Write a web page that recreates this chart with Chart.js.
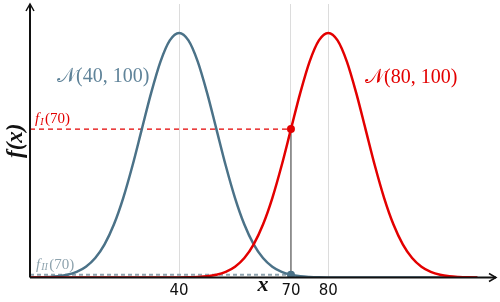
<!DOCTYPE html>
<html>
<head>
<meta charset="utf-8">
<script src="https://cdn.jsdelivr.net/npm/chart.js@4"></script>
<style>
html,body{margin:0;padding:0;background:#fff}
#wrap{width:500px;height:302px}
</style>
</head>
<body>
<div id="wrap"><canvas id="chart" width="500" height="302"></canvas></div>
<script>
"use strict"

const xs = [0,2.5,5,7.5,10,12.5,15,17.5,20,22.5,25,27.5,30,32.5,35,37.5,40,42.5,45,47.5,50,52.5,55,57.5,60,62.5,65,67.5,70,72.5,75,77.5,80,82.5,85,87.5,90,92.5,95,97.5,100,102.5,105,107.5,110,112.5,115,117.5,120]

// density of N(40,100)
const fLow = [0.000013,0.000035,0.00009,0.0002,0.00044,0.00091,0.00175,0.00317,0.0054,0.00863,0.01295,0.01826,0.0242,0.03011,0.03521,0.03867,0.03989,0.03867,0.03521,0.03011,0.0242,0.01826,0.01295,0.00863,0.0054,0.00317,0.00175,0.00091,0.00044,0.0002,0.00009,0.000035,0.000013,0,0,0,0,0,0,0,0,0,0,0,0,0,0,0,0]

// density of N(80,100)
const fHigh = [0,0,0,0,0,0,0,0,0,0,0,0,0,0,0,0.000005,0.000013,0.000035,0.00009,0.0002,0.00044,0.00091,0.00175,0.00317,0.0054,0.00863,0.01295,0.01826,0.0242,0.03011,0.03521,0.03867,0.03989,0.03867,0.03521,0.03011,0.0242,0.01826,0.01295,0.00863,0.0054,0.00317,0.00175,0.00091,0.00044,0.0002,0.00009,0.000035,0.000013]

// tick labels on x
const xTicks = [40,70,80]

// the point x = 70 and the two densities there
const xCut = 70
const fLowAt = 0.00044
const fHighAt = 0.0242

const colBlue = '#4b7288'
const colBlueText = '#5f8399'
const colBlueDash = '#8ea3ae'
const colRed = '#e30000'

function toPts(vals){
    return xs.map((x,i) => ({x:x, y:vals[i]}))
}

// draw f_{sub}(70) style text
function drawSubText(ctx, x, y, sub, color){
    ctx.fillStyle = color
    ctx.textBaseline = 'middle'
    ctx.textAlign = 'left'
    ctx.font = 'italic 15px "Liberation Serif", "DejaVu Serif", serif'
    ctx.fillText('f', x, y)
    let w = ctx.measureText('f').width + 1
    ctx.font = 'italic 10px "Liberation Serif", "DejaVu Serif", serif'
    ctx.fillText(sub, x + w, y + 3)
    w += ctx.measureText(sub).width + 1.5
    ctx.font = '15px "Liberation Serif", "DejaVu Serif", serif'
    ctx.fillText('(' + xCut + ')', x + w, y)
}

const decorPlugin = {
    id:'decor',
    afterDatasetsDraw(chart){
        const ctx = chart.ctx
        const sx = chart.scales.x
        const sy = chart.scales.y
        ctx.save()

        // curve names
        ctx.font = '20px "Liberation Serif", "DejaVu Serif", serif'
        ctx.textBaseline = 'middle'
        ctx.textAlign = 'left'
        ctx.fillStyle = colBlueText
        ctx.fillText('\u{1D4A9}(40, 100)', 57, 77)
        ctx.fillStyle = colRed
        ctx.fillText('\u{1D4A9}(80, 100)', 365, 78)

        // labels of the dashed lines
        drawSubText(ctx, sx.getPixelForValue(0) + 5, sy.getPixelForValue(fHighAt) - 10, 'I', colRed)
        drawSubText(ctx, sx.getPixelForValue(0) + 6, sy.getPixelForValue(fLowAt) - 10, 'II', colBlueDash)

        // axes with arrow heads
        const a = chart.chartArea
        ctx.strokeStyle = '#111'
        ctx.lineWidth = 2
        ctx.beginPath()
        ctx.moveTo(a.left, a.bottom)
        ctx.lineTo(a.left, a.top)
        ctx.moveTo(a.left, a.bottom)
        ctx.lineTo(a.right, a.bottom)
        ctx.stroke()
        ctx.lineWidth = 1.5
        ctx.beginPath()
        ctx.moveTo(a.left - 4, a.top + 7)
        ctx.lineTo(a.left, a.top)
        ctx.lineTo(a.left + 4, a.top + 7)
        ctx.moveTo(a.right - 7, a.bottom - 4)
        ctx.lineTo(a.right, a.bottom)
        ctx.lineTo(a.right - 7, a.bottom + 4)
        ctx.stroke()

        // axis titles
        ctx.fillStyle = '#111'
        ctx.font = 'bold italic 22px "Liberation Serif", "DejaVu Serif", serif'
        ctx.textAlign = 'center'
        ctx.textBaseline = 'middle'
        ctx.fillText('x', (a.left + a.right) / 2, 285)
        ctx.font = 'bold italic 23px "Liberation Serif", "DejaVu Serif", serif'
        ctx.translate(16, (a.top + a.bottom) / 2)
        ctx.rotate(-Math.PI / 2)
        ctx.fillText('f(x)', 0, 0)
        ctx.restore()
    }
}

new Chart('chart', {
    type:'line',
    data:{
        datasets:[
            {
                // dashed line at f_I(70)
                data:[{x:0,y:fHighAt},{x:xCut,y:fHighAt}],
                borderColor:colRed, borderWidth:1.2, borderDash:[5,4],
                pointRadius:0, order:6
            },
            {
                // dashed line at f_II(70)
                data:[{x:0,y:fLowAt},{x:xCut,y:fLowAt}],
                borderColor:colBlueDash, borderWidth:2, borderDash:[4,3],
                pointRadius:0, order:5
            },
            {
                // drop line at x = 70
                data:[{x:xCut,y:0},{x:xCut,y:fHighAt}],
                borderColor:'#777', borderWidth:1.5,
                pointRadius:0, order:4
            },
            {
                data:toPts(fLow),
                borderColor:colBlue, borderWidth:2.5,
                pointRadius:0, cubicInterpolationMode:'monotone', order:3
            },
            {
                data:toPts(fHigh),
                borderColor:colRed, borderWidth:2.5,
                pointRadius:0, cubicInterpolationMode:'monotone', order:2
            },
            {
                // the two marked points
                data:[{x:xCut,y:fHighAt},{x:xCut,y:fLowAt}],
                showLine:false,
                pointRadius:4, pointBorderWidth:0,
                pointBackgroundColor:[colRed,colBlue],
                order:1
            }
        ]
    },
    options:{
        responsive:false,
        animation:false,
        layout:{padding:{left:0,right:2,top:2,bottom:0}},
        plugins:{legend:{display:false},tooltip:{enabled:false}},
        scales:{
            x:{
                type:'linear', min:0, max:125,
                afterBuildTicks(scale){
                    scale.ticks = xTicks.map(v => ({value:v}))
                },
                afterFit(scale){ scale.height = 24.5 },
                grid:{color:'#dcdcdc', lineWidth:1, drawTicks:false},
                border:{display:false},
                ticks:{
                    padding:5, color:'#111', maxRotation:0, autoSkip:false,
                    font:{family:'"DejaVu Sans", sans-serif', size:15}
                }
            },
            y:{
                type:'linear', min:0, max:0.0446,
                afterFit(scale){ scale.width = 30 },
                grid:{display:false},
                border:{display:false},
                ticks:{display:false}
            }
        }
    },
    plugins:[decorPlugin]
})
</script>
</body>
</html>
